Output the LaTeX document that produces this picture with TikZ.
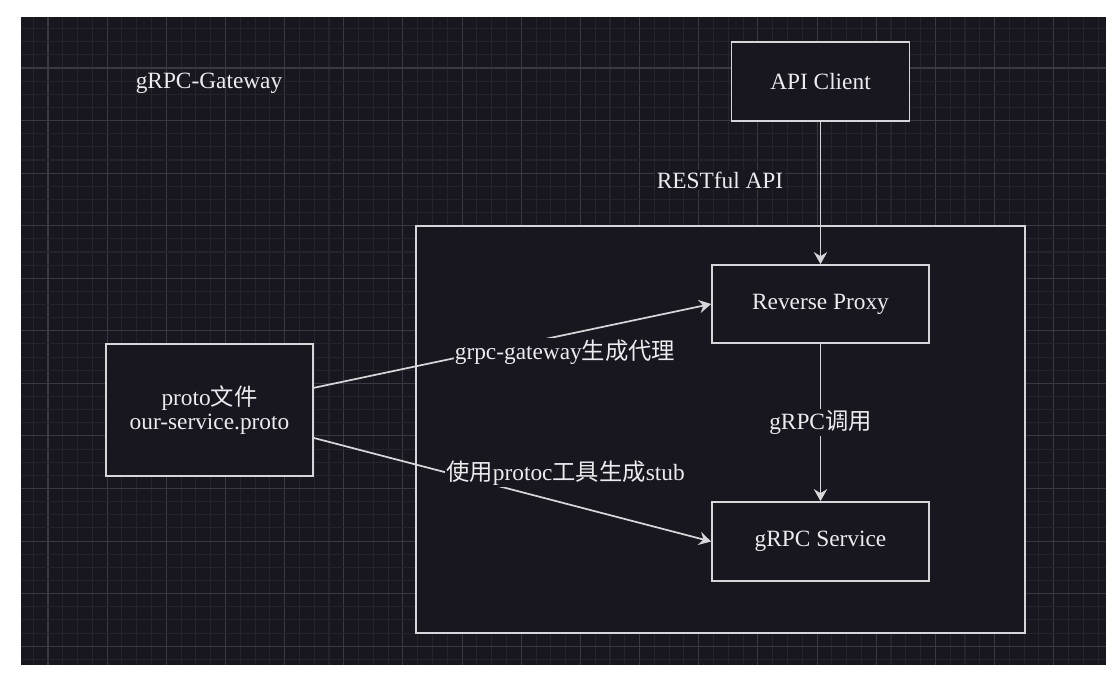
\documentclass[tikz,border=0pt]{standalone}
\usepackage{fontspec}
\setmainfont{Liberation Serif}
\newfontfamily\cjk{Noto Sans CJK SC}
\usepackage{tikz}
\usetikzlibrary{positioning,calc,arrows.meta}
\definecolor{canvas}{HTML}{18161E}
\definecolor{gridminor}{HTML}{25232B}
\definecolor{gridmajor}{HTML}{3A3840}
\definecolor{edge}{HTML}{D6D6D8}
\definecolor{ink}{HTML}{ECECEE}
\newcommand{\pxu}{0.75pt}
\tikzset{
  blk/.style={draw=edge, fill=canvas, line width=1.3pt, text=ink, align=center,
    inner sep=0pt, font=\fontsize{17.5}{17.5}\selectfont},
  lbl/.style={text=ink, fill=canvas, inner sep=1pt, font=\fontsize{17.5}{17.5}\selectfont},
  conn/.style={draw=edge, line width=1.3pt, -{Stealth[length=9pt,width=10pt,inset=3pt]}},
}

\begin{document}
\begin{tikzpicture}[x=0.75pt, y=-0.75pt]
  \useasboundingbox (0,0) rectangle (1118,682);
  \fill[white] (0,0) rectangle (1118,682);
  \fill[canvas] (21,17) rectangle (1106,665);
  % grid
  \foreach \i in {0,...,72}{
    \pgfmathsetmacro{\gx}{33.2+\i*14.79}
    \pgfmathtruncatemacro{\gm}{mod(\i,4)}
    \ifnum\gm=1 \draw[gridmajor, line width=0.8pt] (\gx,17) -- (\gx,665);
    \else \draw[gridminor, line width=0.8pt] (\gx,17) -- (\gx,665); \fi
  }
  \foreach \j in {0,...,48}{
    \pgfmathsetmacro{\gy}{28.6+\j*13.14}
    \pgfmathtruncatemacro{\gm}{mod(\j,4)}
    \ifnum\gm=3 \draw[gridmajor, line width=0.8pt] (21,\gy) -- (1106,\gy);
    \else \draw[gridminor, line width=0.8pt] (21,\gy) -- (1106,\gy); \fi
  }

  \node (title) [text=ink, font=\fontsize{17.5}{17.5}\selectfont] at (209,83) {gRPC-Gateway};

  \node (gw) [blk, minimum width=609*\pxu, minimum height=407*\pxu] at (720.5,429.5) {};
  \node (api) [blk, minimum width=178*\pxu, minimum height=79*\pxu] at (820.5,81.5) {API Client};
  \node (rp) [blk, minimum width=217*\pxu, minimum height=78*\pxu] at (820.5,304) {Reverse Proxy};
  \node (svc) [blk, minimum width=217*\pxu, minimum height=79*\pxu] at (820.5,541.5) {gRPC Service};
  \node (proto) [blk, minimum width=207*\pxu, minimum height=132*\pxu] at (209.5,410)
    {proto{\cjk 文件}\\our-service.proto};

  \draw[conn] (api) -- (rp);
  \node (rest) [lbl] at (720,180) {RESTful API};
  \draw[conn] (rp) -- node[lbl] (call) {gRPC{\cjk 调用}} (svc);

  \draw[conn] (proto.12) -- (rp.west);
  \node (gen) [lbl] at (565,352) {grpc-gateway{\cjk 生成代理}};
  \draw[conn] (proto.-15) -- (svc.west);
  \node (stub) [lbl] at (565.5,473) {{\cjk 使用}protoc{\cjk 工具生成}stub};
\end{tikzpicture}
\end{document}
